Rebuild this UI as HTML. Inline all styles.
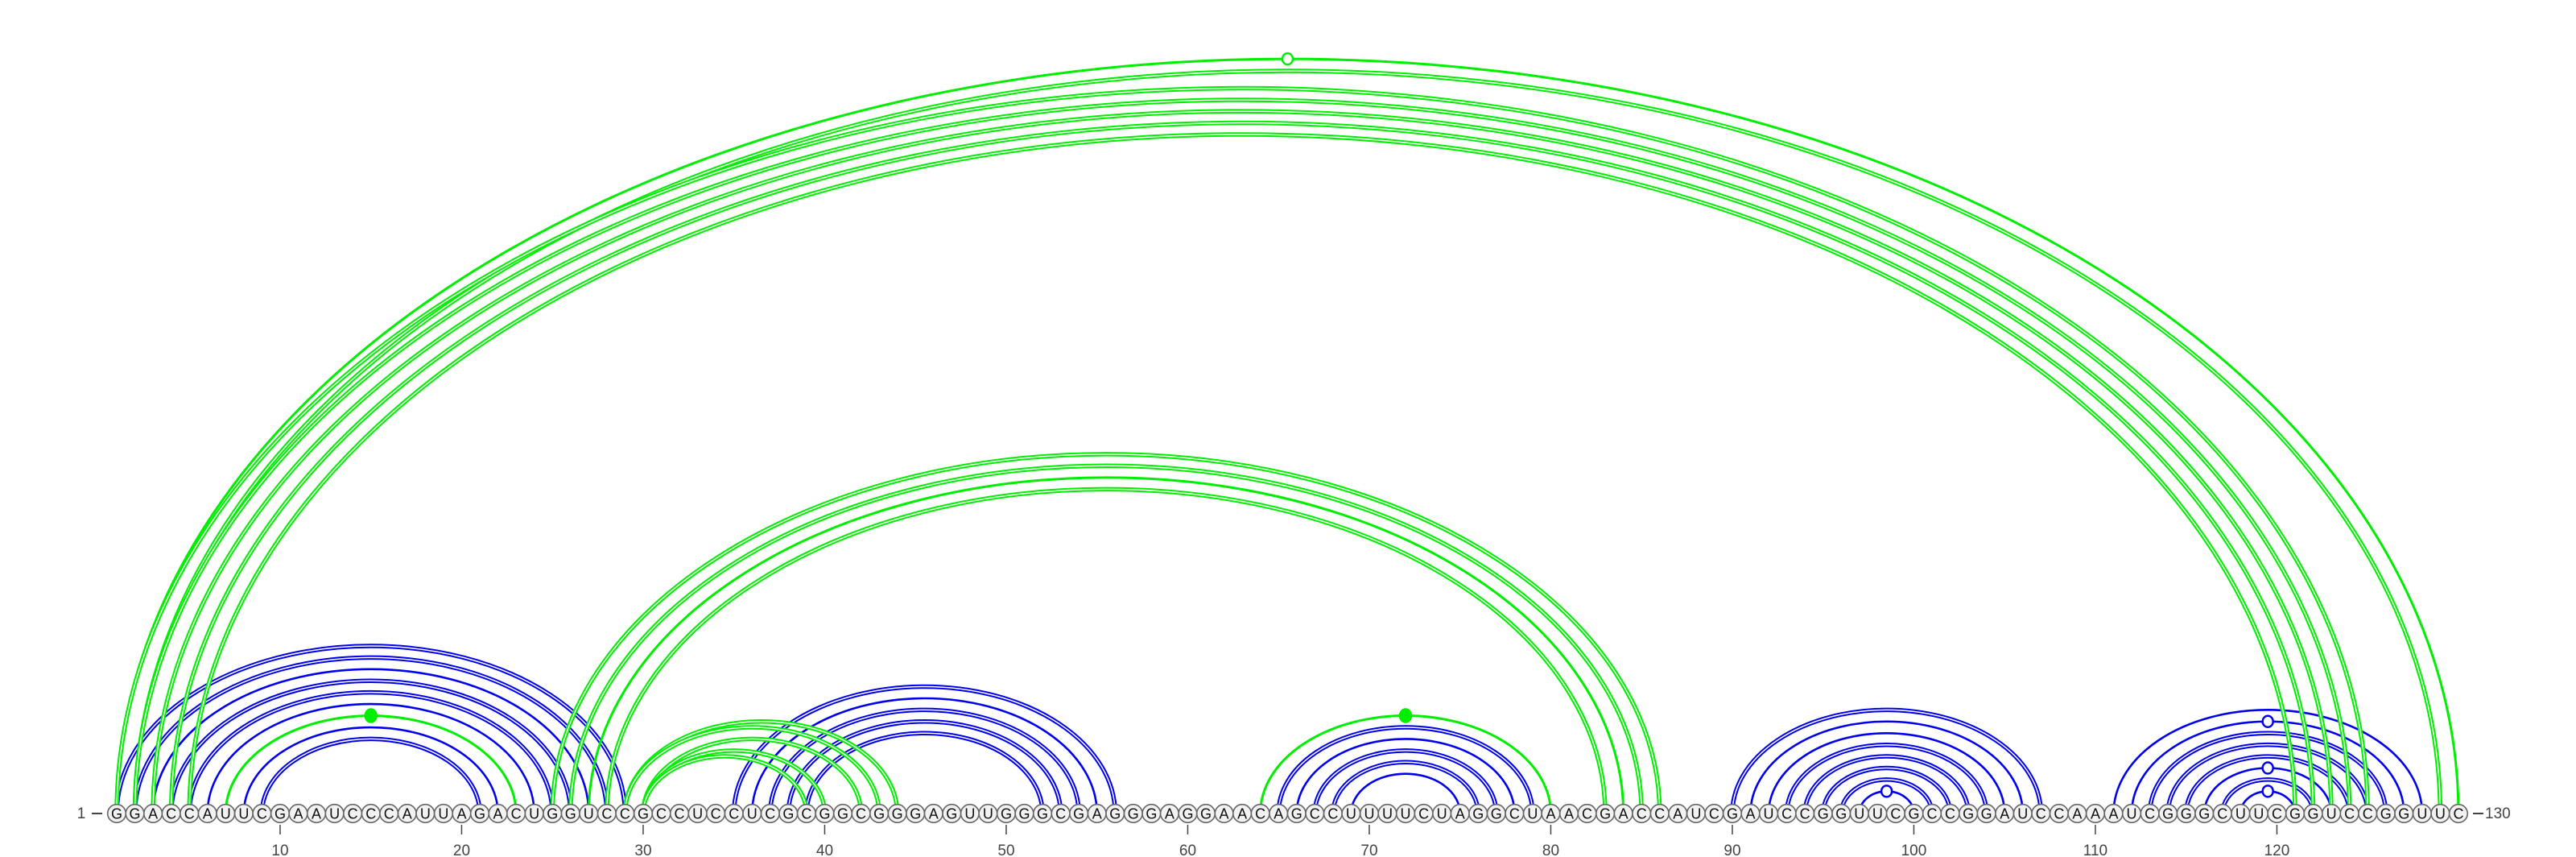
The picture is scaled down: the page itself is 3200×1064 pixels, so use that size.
<!DOCTYPE html>
<html><head><meta charset="utf-8"><title>RNA arc diagram</title>
<style>
html,body{margin:0;padding:0;background:#fff;}
svg{display:block;font-family:"Liberation Sans","DejaVu Sans",sans-serif;}
</style></head>
<body>
<svg id="chart" width="3200" height="1064" viewBox="0 0 3200 1064" xmlns="http://www.w3.org/2000/svg">
<g id="arcs-blue"></g>
<g id="arcs-green"></g>
<g id="nts"></g>
<g id="axis"></g>
<text x="101" y="1016" font-size="19" fill="#444" text-anchor="middle">1</text>
<line x1="114" y1="1010" x2="127" y2="1010" stroke="#444" stroke-width="2"/>
<line x1="3072" y1="1010" x2="3085" y2="1010" stroke="#444" stroke-width="2"/>
<text x="3087" y="1016" font-size="19" fill="#444">130</text>
</svg>
<script>
const sequence = "GGACCAUUCGAAUCCCAUUAGACUGGUCCGCCUCCUCGCGGCGGGAGUUGGGCGAGGGAGGAACAGCCUUUUCUAGGCUAACGACCAUCGAUCCGGUUCGCCGGAUCCAAAUCGGGCUUCGGUCCGGUUC";
const tickValues = [10,20,30,40,50,60,70,80,90,100,110,120];
const blueI = [1,2,3,4,5,6,8,9, 35,36,37,38,39, 65,66,67,68,69, 90,91,92,93,94,95,96,97, 111,112,113,114,115,116,117,118];
const blueJ = [29,28,27,26,25,24,22,21, 56,55,54,53,52, 79,78,77,76,75, 107,106,105,104,103,102,101,100, 128,127,126,125,124,123,122,121];
const blueDouble = [1,1,0,1,1,0,0,1, 1,0,1,1,1, 1,0,1,1,0, 1,0,0,1,1,1,1,0, 0,0,1,1,1,0,1,0];
const blueMark = [0,0,0,0,0,0,0,0, 0,0,0,0,0, 0,0,0,0,0, 0,0,0,0,0,0,0,1, 0,1,0,0,0,1,0,1];
const greenI = [1,2,1,2,3,4,5, 7, 25,26,27,28, 29,29,30,30,30, 64];
const greenJ = [130,129,125,124,123,122,121, 23, 86,85,84,83, 44,43,42,40,39, 80];
const greenDouble = [0,1,1,1,1,1,1, 0, 1,1,0,1, 1,1,1,1,1, 0];
const greenMark = [1,0,0,0,0,0,0, 2, 0,0,0,0, 0,0,0,0,0, 2];

const NS="http://www.w3.org/2000/svg";
const X0=145, DX=22.55, BASE=1010;
function xPos(i){return X0+(i-1)*DX;}
function arcH(i,j){const s=(j-i)*DX;return 0.32*s+6;}
function mk(tag,attrs){const e=document.createElementNS(NS,tag);for(const k in attrs)e.setAttribute(k,attrs[k]);return e;}

function drawArcs(gid,I,J,D,M,color){
  const g=document.getElementById(gid);
  for(let k=0;k<I.length;k++){
    const x1=xPos(I[k]),x2=xPos(J[k]);
    const rx=(x2-x1)/2, ry=arcH(I[k],J[k]);
    const d=`M${x1},${BASE} A${rx},${ry} 0 0 1 ${x2},${BASE}`;
    if(D[k]){
      const a=mk('path',{d:d,fill:'none',stroke:color,'stroke-width':5.5});
      
      
      g.appendChild(a);
      const w=mk('path',{d:d,fill:'none',stroke:'#fff','stroke-width':1.5});
      
      
      g.appendChild(w);
    } else {
      const a=mk('path',{d:d,fill:'none',stroke:color,'stroke-width':color==='#00ee00'?3:2.6});
      
      
      g.appendChild(a);
    }
    if(M[k]){
      const cx=(x1+x2)/2, cy=BASE-ry;
      const c=mk('ellipse',{cx:cx,cy:cy,rx:M[k]===2?7:6.5,ry:M[k]===2?8:7,fill:M[k]===2?color:'#fff',stroke:color,'stroke-width':2.5});
      
      
      g.appendChild(c);
    }
  }
}
drawArcs('arcs-blue',blueI,blueJ,blueDouble,blueMark,'#0000ee');
drawArcs('arcs-green',greenI,greenJ,greenDouble,greenMark,'#00ee00');

const nts=document.getElementById('nts');
for(let i=1;i<=sequence.length;i++){
  const x=xPos(i);
  const c=mk('circle',{cx:x,cy:BASE,r:11.3,fill:'#f2f2f2',stroke:'#666','stroke-width':1.6});
  
  
  nts.appendChild(c);
  const t=mk('text',{x:x,y:BASE+6.5,'font-size':18,'text-anchor':'middle',fill:'#111'});
  
  
  t.textContent=sequence[i-1];
  nts.appendChild(t);
}
const axis=document.getElementById('axis');
tickValues.forEach(v=>{
  const x=xPos(v);
  const l=mk('line',{x1:x,y1:1024,x2:x,y2:1036,stroke:'#444','stroke-width':1.5});
  
  
  axis.appendChild(l);
  const t=mk('text',{x:x,y:1062,'font-size':19,'text-anchor':'middle',fill:'#444'});
  
  
  t.textContent=v;
  axis.appendChild(t);
});
</script>
</body></html>
